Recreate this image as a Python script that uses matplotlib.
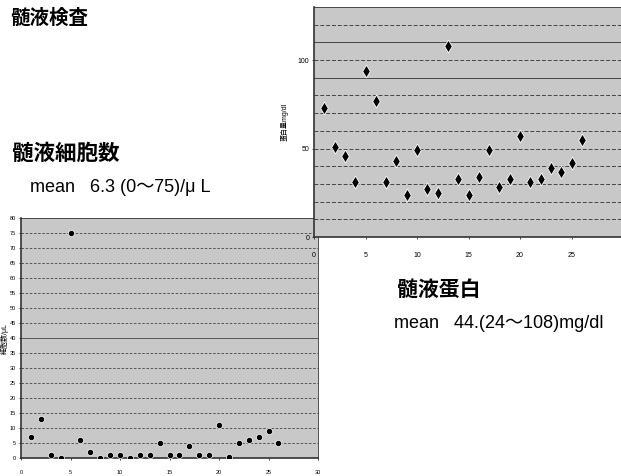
import matplotlib.pyplot as plt
import numpy as np

plt.rcParams['font.family'] = ['Liberation Sans', 'Noto Sans CJK JP', 'DejaVu Sans']

# CSF cell count (/uL), patients 1..26
cell_x = list(range(1, 27))
cell_counts = [7, 13, 1, 0, 75, 6, 2, 0, 1, 1, 0, 1, 1, 5, 1, 1, 4, 1, 1, 11, 0.5, 5, 6, 7, 9, 5]

# CSF protein (mg/dl), patients 1..26
prot_x = list(range(1, 27))
protein = [73, 51, 46, 31, 94, 77, 31, 43, 24, 49, 27, 25, 108, 33, 24, 34,
           49, 28, 33, 57, 31, 33, 39, 37, 42, 55]

W, H = 621, 476
fig = plt.figure(figsize=(W / 100, H / 100), dpi=100)
panel = '#c8c8c8'
grid_c = '#444444'

# left chart: cell count
ax1 = fig.add_axes([21 / W, (H - 458) / H, 297 / W, 240 / H])
ax1.set_facecolor(panel)
ax1.scatter(cell_x, cell_counts, s=20, color='black', edgecolor='white', linewidth=0.5, zorder=3)
ax1.set_xlim(0, 30)
ax1.set_ylim(0, 80)
ax1.set_xticks(np.arange(0, 31, 5))
ax1.set_yticks(np.arange(0, 81, 5))
for v in np.arange(5, 80, 5):
    ls = '-' if v == 40 else (0, (3, 2))
    ax1.axhline(v, color=grid_c, lw=0.6, ls=ls, zorder=1)
ax1.tick_params(labelsize=4, length=1.5, width=0.5, pad=2)
ax1.tick_params(axis='x', pad=7)
ax1.set_ylabel('細胞数/μL', fontsize=5, labelpad=1)
for s in ax1.spines.values():
    s.set_color('#333333')
    s.set_linewidth(0.6)
ax1.spines['left'].set_linewidth(1.2)
ax1.spines['bottom'].set_linewidth(1.2)

# right chart: protein
ax2 = fig.add_axes([314 / W, (H - 237) / H, 307 / W, 230 / H], zorder=5)
ax2.set_facecolor(panel)
ax2.scatter(prot_x, protein, s=42, marker='d', color='black', edgecolor='white', linewidth=0.6, zorder=3)
ax2.set_xlim(0, 29.8)
ax2.set_ylim(0, 130)
ax2.set_xticks(np.arange(0, 30, 5))
ax2.set_yticks([0, 50, 100])
for v in np.arange(10, 130, 10):
    ls = '-' if v in (90, 110) else (0, (4, 2))
    ax2.axhline(v, color=grid_c, lw=0.7, ls=ls, zorder=1)
ax2.tick_params(labelsize=5, length=1.5, width=0.5, pad=2)
ax2.tick_params(axis='x', pad=9)
ax2.set_ylabel('蛋白量mg/dl', fontsize=5, labelpad=6)
for s in ax2.spines.values():
    s.set_color('#333333')
    s.set_linewidth(0.6)
ax2.spines['left'].set_linewidth(1.2)
ax2.spines['bottom'].set_linewidth(1.2)

# texts
cjk = ['Noto Sans CJK JP', 'DejaVu Sans']
fig.text(10 / W, 1 - 18 / H, '髄液検査', fontsize=14, fontweight='bold', va='center', family=cjk)
fig.text(12 / W, 1 - 153 / H, '髄液細胞数', fontsize=15.5, fontweight='bold', va='center', family=cjk)
fig.text(30 / W, 1 - 188 / H, 'mean   6.3 (0～75)/μ L', fontsize=13, va='center')
fig.text(397 / W, 1 - 289 / H, '髄液蛋白', fontsize=15, fontweight='bold', va='center', family=cjk)
fig.text(394 / W, 1 - 324 / H, 'mean   44.(24～108)mg/dl', fontsize=13, va='center')

fig.savefig('out.png', dpi=100)
